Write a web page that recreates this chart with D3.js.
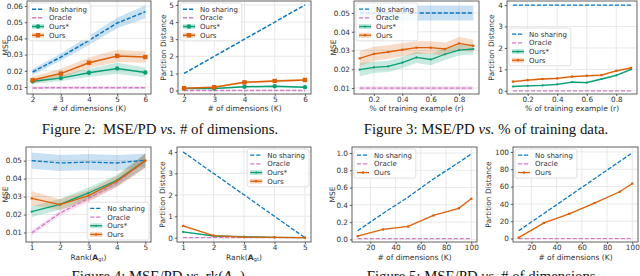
<!DOCTYPE html>
<html><head><meta charset="utf-8">
<script src="https://cdn.jsdelivr.net/npm/d3@7"></script>
<style>body{margin:0;background:#fff;overflow:hidden} svg{display:block}</style>
</head><body><svg id="c" width="640" height="276"></svg>
<script>
// ---------- data ----------
const dimsSmall = [2, 3, 4, 5, 6];
const ratios = [0.1, 0.2, 0.3, 0.4, 0.5, 0.6, 0.7, 0.8, 0.9];
const ranks = [1, 2, 3, 4, 5];
const dimsLarge = [10, 30, 50, 70, 90, 100];

// Figure 2 (MSE / PD vs # dims)
const f2MseNoShare = [0.0193, 0.0285, 0.0388, 0.0495, 0.0565];
const f2MseNoShareErr = [0.0018, 0.0022, 0.0028, 0.0032, 0.0040];
const f2MseOracle = [0.0094, 0.0096, 0.0095, 0.0096, 0.0096];
const f2MseOracleErr = [0.0008, 0.0008, 0.0008, 0.0008, 0.0008];
const f2MseOursStar = [0.0135, 0.0155, 0.0188, 0.0215, 0.0190];
const f2MseOursStarErr = [0.0015, 0.0020, 0.0025, 0.0035, 0.0030];
const f2MseOurs = [0.0143, 0.0183, 0.0250, 0.0292, 0.0285];
const f2MseOursErr = [0.0020, 0.0030, 0.0032, 0.0038, 0.0035];
const f2PdNoShare = [1, 2, 3, 4, 5];
const f2PdOracle = [0, 0, 0, 0, 0];
const f2PdOursStar = [0.12, 0.12, 0.22, 0.25, 0.20];
const f2PdOursStarErr = [0.03, 0.03, 0.05, 0.05, 0.05];
const f2PdOurs = [0.14, 0.20, 0.48, 0.56, 0.62];
const f2PdOursErr = [0.03, 0.05, 0.07, 0.07, 0.07];

// Figure 3 (MSE / PD vs % training)
const f3MseNoShare = [0.05, 0.05, 0.05, 0.05, 0.05, 0.05, 0.05, 0.05, 0.05];
const f3MseNoShareErr = [0.004, 0.004, 0.004, 0.004, 0.004, 0.004, 0.004, 0.004, 0.004];
const f3MseOracle = [0.0099, 0.0099, 0.0099, 0.0099, 0.0099, 0.0099, 0.0099, 0.0099, 0.0099];
const f3MseOracleErr = [0.001, 0.001, 0.001, 0.001, 0.001, 0.001, 0.001, 0.001, 0.001];
const f3MseOursStar = [0.0198, 0.0210, 0.0215, 0.0235, 0.0263, 0.0252, 0.0280, 0.0302, 0.0308];
const f3MseOursStarErr = [0.0035, 0.0030, 0.0030, 0.0030, 0.0030, 0.0030, 0.0030, 0.0028, 0.0028];
const f3MseOurs = [0.0258, 0.0282, 0.0292, 0.0304, 0.0315, 0.0315, 0.0308, 0.0338, 0.0325];
const f3MseOursErr = [0.0040, 0.0038, 0.0036, 0.0036, 0.0034, 0.0034, 0.0034, 0.0034, 0.0032];
const f3PdNoShare = [4, 4, 4, 4, 4, 4, 4, 4, 4];
const f3PdOracle = [0, 0, 0, 0, 0, 0, 0, 0, 0];
const f3PdOursStar = [0.20, 0.23, 0.25, 0.30, 0.40, 0.38, 0.55, 0.72, 1.00];
const f3PdOursStarErr = [0.04, 0.04, 0.04, 0.04, 0.05, 0.05, 0.05, 0.05, 0.05];
const f3PdOurs = [0.43, 0.50, 0.55, 0.58, 0.66, 0.70, 0.73, 0.93, 1.07];
const f3PdOursErr = [0.05, 0.05, 0.05, 0.05, 0.05, 0.05, 0.05, 0.05, 0.05];

// Figure 4 (MSE / PD vs rank)
const f4MseNoShare = [0.0500, 0.0487, 0.0492, 0.0487, 0.0503];
const f4MseNoShareErr = [0.0045, 0.0045, 0.0045, 0.0045, 0.0035];
const f4MseOracle = [0.0098, 0.0208, 0.0290, 0.0375, 0.0500];
const f4MseOracleErr = [0.0015, 0.0015, 0.0020, 0.0022, 0.0040];
const f4MseOursStar = [0.0216, 0.0257, 0.0320, 0.0390, 0.0500];
const f4MseOursStarErr = [0.0030, 0.0030, 0.0030, 0.0030, 0.0040];
const f4MseOurs = [0.0290, 0.0255, 0.0305, 0.0385, 0.0500];
const f4MseOursErr = [0.0040, 0.0030, 0.0030, 0.0030, 0.0040];
const f4PdNoShare = [4, 3, 2, 1, 0];
const f4PdOracle = [0, 0, 0, 0, 0];
const f4PdOursStar = [0.27, 0.08, 0.05, 0.02, 0.00];
const f4PdOursStarErr = [0.03, 0.02, 0.02, 0.01, 0.00];
const f4PdOurs = [0.55, 0.10, 0.03, 0.02, 0.00];
const f4PdOursErr = [0.04, 0.02, 0.02, 0.01, 0.00];

// Figure 5 (MSE / PD vs # dims, large)
const f5MseNoShare = [0.10, 0.30, 0.49, 0.70, 0.89, 0.99];
const f5MseOracle = [0.01, 0.01, 0.01, 0.01, 0.01, 0.01];
const f5MseOurs = [0.038, 0.115, 0.150, 0.277, 0.360, 0.470];
const f5PdNoShare = [9, 29, 49, 69, 89, 99];
const f5PdOracle = [0, 0, 0, 0, 0, 0];
const f5PdOurs = [1.0, 18.0, 28.5, 41.0, 54.0, 63.5];

// tick values
const tickDimsSmall = [2, 3, 4, 5, 6];
const tickRatios = [0.2, 0.4, 0.6, 0.8];
const tickRanks = [1, 2, 3, 4, 5];
const tickDimsLarge = [20, 40, 60, 80, 100];
const tickMseSmall = [0.01, 0.02, 0.03, 0.04, 0.05, 0.06];
const tickMseMid = [0.01, 0.02, 0.03, 0.04, 0.05];
const tickPd5 = [0, 1, 2, 3, 4, 5];
const tickPd4 = [0, 1, 2, 3, 4];
const tickMseUnit = [0.0, 0.2, 0.4, 0.6, 0.8, 1.0];
const tickPd100 = [0, 20, 40, 60, 80, 100];

const labels = ['No sharing', 'Oracle', 'Ours*', 'Ours'];

// ---------- style ----------
const COL = {no: '#0a78c2', or: '#d27cc4', os: '#0a9e74', ou: '#dc6008'};
const FONT = '"DejaVu Sans", sans-serif';
const svg = d3.select('#c');

function ser(label, xs, ys, err, color, dashed, marker) {
  return {label, xs, ys, err, color, dashed, marker};
}

function panel(cfg) {
  const g = svg.append('g');
  const x = d3.scaleLinear().domain(cfg.xd).range([cfg.x0, cfg.x1]);
  const y = d3.scaleLinear().domain(cfg.yd).range([cfg.y1, cfg.y0]);
  const cid = 'clip' + cfg.id;
  svg.append('clipPath').attr('id', cid).append('rect')
    .attr('x', cfg.x0).attr('y', cfg.y0).attr('width', cfg.x1 - cfg.x0).attr('height', cfg.y1 - cfg.y0);

  // grid
  g.append('g').selectAll('line').data(cfg.xt).join('line')
    .attr('x1', d => x(d)).attr('x2', d => x(d)).attr('y1', cfg.y0).attr('y2', cfg.y1)
    .attr('stroke', '#e3e3e3').attr('stroke-width', 0.8);
  g.append('g').selectAll('line').data(cfg.yt).join('line')
    .attr('y1', d => y(d)).attr('y2', d => y(d)).attr('x1', cfg.x0).attr('x2', cfg.x1)
    .attr('stroke', '#e3e3e3').attr('stroke-width', 0.8);

  const plot = g.append('g').attr('clip-path', `url(#${cid})`);
  // bands
  cfg.series.forEach(s => {
    if (!s.err) return;
    const pts = s.xs.map((xv, i) => [xv, s.ys[i], s.err[i]]);
    plot.append('path').datum(pts)
      .attr('d', d3.area().x(d => x(d[0])).y0(d => y(d[1] - d[2])).y1(d => y(d[1] + d[2])))
      .attr('fill', s.color).attr('fill-opacity', 0.22).attr('stroke', 'none');
  });
  // lines + markers
  cfg.series.forEach(s => {
    const pts = s.xs.map((xv, i) => [xv, s.ys[i]]);
    plot.append('path').datum(pts)
      .attr('d', d3.line().x(d => x(d[0])).y(d => y(d[1])))
      .attr('fill', 'none').attr('stroke', s.color).attr('stroke-width', cfg.lw)
      .attr('stroke-dasharray', s.dashed ? cfg.dash : null);
    if (s.marker === 'circle') {
      plot.append('g').selectAll('circle').data(pts).join('circle')
        .attr('cx', d => x(d[0])).attr('cy', d => y(d[1])).attr('r', cfg.ms / 2).attr('fill', s.color);
    } else if (s.marker === 'square') {
      plot.append('g').selectAll('rect').data(pts).join('rect')
        .attr('x', d => x(d[0]) - cfg.ms / 2).attr('y', d => y(d[1]) - cfg.ms / 2)
        .attr('width', cfg.ms).attr('height', cfg.ms).attr('fill', s.color);
    }
  });

  // frame
  g.append('rect').attr('x', cfg.x0).attr('y', cfg.y0).attr('width', cfg.x1 - cfg.x0).attr('height', cfg.y1 - cfg.y0)
    .attr('fill', 'none').attr('stroke', '#3a3a3a').attr('stroke-width', 0.8);

  // axes
  const styleAxis = a => {
    a.select('.domain').remove();
    a.attr('font-family', FONT).attr('font-size', cfg.tfs);
    a.selectAll('line').attr('stroke', '#3a3a3a').attr('stroke-width', 0.8);
    a.selectAll('text').attr('fill', '#333');
  };
  g.append('g').attr('transform', `translate(0,${cfg.y1})`)
    .call(d3.axisBottom(x).tickValues(cfg.xt).tickFormat(d3.format(cfg.xf)).tickSize(2).tickPadding(1.3))
    .call(styleAxis);
  g.append('g').attr('transform', `translate(${cfg.x0},0)`)
    .call(d3.axisLeft(y).tickValues(cfg.yt).tickFormat(d3.format(cfg.yf)).tickSize(2.2).tickPadding(1.8))
    .call(styleAxis);

  // axis labels
  const xl = g.append('text').attr('x', (cfg.x0 + cfg.x1) / 2).attr('y', cfg.xly)
    .attr('text-anchor', 'middle').attr('font-family', FONT).attr('font-size', cfg.lfs).attr('fill', '#333');
  if (cfg.rankLabel) {
    xl.append('tspan').text('Rank(');
    xl.append('tspan').attr('font-weight', 'bold').text('A');
    xl.append('tspan').attr('font-size', cfg.lfs * 0.7).attr('dy', 1.5).text('gt');
    xl.append('tspan').attr('dy', -1.5).text(')');
  } else xl.text(cfg.xl);
  g.append('text').attr('transform', `translate(${cfg.ylx},${(cfg.y0 + cfg.y1) / 2}) rotate(-90)`)
    .attr('text-anchor', 'middle').attr('dy', '0.35em').attr('font-family', FONT).attr('font-size', cfg.lfs)
    .attr('fill', '#333').text(cfg.yl);

  // legend
  const L = cfg.leg;
  const lg = g.append('g');
  const box = lg.append('rect');
  const hl = 12, pad = 3, gap = 5, rowH = L.rowH;
  let maxW = 0;
  const texts = cfg.series.map((s, i) => {
    const t = lg.append('text').attr('font-family', FONT).attr('font-size', L.fs).attr('fill', '#333')
      .attr('dy', '0.35em').text(s.label);
    maxW = Math.max(maxW, t.node().getComputedTextLength());
    return t;
  });
  const w = pad + hl + gap + maxW + pad + 1;
  const h = rowH * cfg.series.length + 3;
  let lx, ly;
  if (L.pos === 'ul') { lx = cfg.x0 + 2; ly = cfg.y0 + 2; }
  else if (L.pos === 'ur') { lx = cfg.x1 - 2 - w; ly = cfg.y0 + 2; }
  else if (L.pos === 'lr') { lx = cfg.x1 - 2 - w; ly = cfg.y1 - 2 - h; }
  else { lx = cfg.x0 + 2; ly = L.top; }
  box.attr('x', lx).attr('y', ly).attr('width', w).attr('height', h).attr('rx', 2)
    .attr('fill', '#fff').attr('fill-opacity', 0.82).attr('stroke', '#d4d4d4').attr('stroke-width', 0.7);
  cfg.series.forEach((s, i) => {
    const cy = ly + 1.5 + rowH * (i + 0.5) + 0.3;
    const hx = lx + pad;
    if (s.err && s.marker && cfg.legPatch) {
      lg.append('rect').attr('x', hx).attr('y', cy - 2.5).attr('width', hl).attr('height', 5)
        .attr('fill', s.color).attr('fill-opacity', 0.25);
    }
    lg.append('line').attr('x1', hx).attr('x2', hx + hl).attr('y1', cy).attr('y2', cy)
      .attr('stroke', s.color).attr('stroke-width', cfg.lw).attr('stroke-dasharray', s.dashed ? cfg.dash : null);
    if (s.marker === 'circle') lg.append('circle').attr('cx', hx + hl / 2).attr('cy', cy).attr('r', cfg.ms / 2).attr('fill', s.color);
    if (s.marker === 'square') lg.append('rect').attr('x', hx + hl / 2 - cfg.ms / 2).attr('y', cy - cfg.ms / 2)
      .attr('width', cfg.ms).attr('height', cfg.ms).attr('fill', s.color);
    texts[i].attr('x', hx + hl + gap).attr('y', cy);
  });
}

const common = {tfs: 7.3, lfs: 7.5, lw: 1.5, dash: '4.2,1.8', ms: 4.4, legPatch: true};

panel(Object.assign({}, common, {
  id: 1, x0: 27, x1: 151, y0: 1, y1: 94, xd: [1.8, 6.2], yd: [0.0057, 0.0631],
  xt: tickDimsSmall, yt: tickMseSmall, xf: 'd', yf: '.2f', xl: '# of dimensions (K)', yl: 'MSE', xly: 111, ylx: 5.5,
  leg: {pos: 'ul', fs: 7, rowH: 8.7},
  series: [
    ser(labels[0], dimsSmall, f2MseNoShare, f2MseNoShareErr, COL.no, true, null),
    ser(labels[1], dimsSmall, f2MseOracle, f2MseOracleErr, COL.or, true, null),
    ser(labels[2], dimsSmall, f2MseOursStar, f2MseOursStarErr, COL.os, false, 'circle'),
    ser(labels[3], dimsSmall, f2MseOurs, f2MseOursErr, COL.ou, false, 'square')]
}));
panel(Object.assign({}, common, {
  id: 2, x0: 178, x1: 311, y0: 1, y1: 94, xd: [1.8, 6.2], yd: [-0.2, 5.23],
  xt: tickDimsSmall, yt: tickPd5, xf: 'd', yf: 'd', xl: '# of dimensions (K)', yl: 'Partition Distance', xly: 111, ylx: 163,
  leg: {pos: 'ul', fs: 7, rowH: 8.7},
  series: [
    ser(labels[0], dimsSmall, f2PdNoShare, null, COL.no, true, null),
    ser(labels[1], dimsSmall, f2PdOracle, null, COL.or, true, null),
    ser(labels[2], dimsSmall, f2PdOursStar, f2PdOursStarErr, COL.os, false, 'circle'),
    ser(labels[3], dimsSmall, f2PdOurs, f2PdOursErr, COL.ou, false, 'square')]
}));
const thin = {lw: 1.3, ms: 2.2};
panel(Object.assign({}, common, thin, {
  id: 3, x0: 354, x1: 479, y0: 1, y1: 94, xd: [0.06, 0.94], yd: [0.0068, 0.0564],
  xt: tickRatios, yt: tickMseMid, xf: '.1f', yf: '.2f', xl: '% of training example (r)', yl: 'MSE', xly: 111, ylx: 333,
  leg: {pos: 'ul', fs: 7, rowH: 8.7},
  series: [
    ser(labels[0], ratios, f3MseNoShare, f3MseNoShareErr, COL.no, true, null),
    ser(labels[1], ratios, f3MseOracle, f3MseOracleErr, COL.or, true, null),
    ser(labels[2], ratios, f3MseOursStar, f3MseOursStarErr, COL.os, false, 'circle'),
    ser(labels[3], ratios, f3MseOurs, f3MseOursErr, COL.ou, false, 'square')]
}));
panel(Object.assign({}, common, thin, {
  id: 4, x0: 507, x1: 637, y0: 1, y1: 94, xd: [0.06, 0.94], yd: [-0.15, 4.19],
  xt: tickRatios, yt: tickPd4, xf: '.1f', yf: 'd', xl: '% of training example (r)', yl: 'Partition Distance', xly: 111, ylx: 491,
  leg: {pos: 'cl', top: 28, fs: 7, rowH: 8.7},
  series: [
    ser(labels[0], ratios, f3PdNoShare, null, COL.no, true, null),
    ser(labels[1], ratios, f3PdOracle, null, COL.or, true, null),
    ser(labels[2], ratios, f3PdOursStar, f3PdOursStarErr, COL.os, false, 'circle'),
    ser(labels[3], ratios, f3PdOurs, f3PdOursErr, COL.ou, false, 'square')]
}));
panel(Object.assign({}, common, thin, {
  id: 5, x0: 26, x1: 151, y0: 147, y1: 242, xd: [0.8, 5.2], yd: [0.0047, 0.0576],
  xt: tickRanks, yt: tickMseMid, xf: 'd', yf: '.2f', rankLabel: true, yl: 'MSE', xly: 259.5, ylx: 5.5,
  leg: {pos: 'lr', fs: 7, rowH: 8.7},
  series: [
    ser(labels[0], ranks, f4MseNoShare, f4MseNoShareErr, COL.no, true, null),
    ser(labels[1], ranks, f4MseOracle, f4MseOracleErr, COL.or, true, null),
    ser(labels[2], ranks, f4MseOursStar, f4MseOursStarErr, COL.os, false, 'circle'),
    ser(labels[3], ranks, f4MseOurs, f4MseOursErr, COL.ou, false, 'square')]
}));
panel(Object.assign({}, common, thin, {
  id: 6, x0: 177, x1: 311, y0: 147, y1: 242, xd: [0.8, 5.2], yd: [-0.2, 4.23],
  xt: tickRanks, yt: tickPd4, xf: 'd', yf: 'd', rankLabel: true, yl: 'Partition Distance', xly: 259.5, ylx: 162,
  leg: {pos: 'ur', fs: 7, rowH: 8.7},
  series: [
    ser(labels[0], ranks, f4PdNoShare, null, COL.no, true, null),
    ser(labels[1], ranks, f4PdOracle, null, COL.or, true, null),
    ser(labels[2], ranks, f4PdOursStar, f4PdOursStarErr, COL.os, false, 'circle'),
    ser(labels[3], ranks, f4PdOurs, f4PdOursErr, COL.ou, false, 'square')]
}));
panel(Object.assign({}, common, thin, {
  id: 7, x0: 352, x1: 477, y0: 147, y1: 242, xd: [5.5, 104.5], yd: [-0.03, 1.07],
  xt: tickDimsLarge, yt: tickMseUnit, xf: 'd', yf: '.1f', xl: '# of dimensions (K)', yl: 'MSE', xly: 259.5, ylx: 332,
  leg: {pos: 'ul', fs: 7, rowH: 8.7},
  series: [
    ser(labels[0], dimsLarge, f5MseNoShare, null, COL.no, true, null),
    ser(labels[1], dimsLarge, f5MseOracle, null, COL.or, true, null),
    ser(labels[3], dimsLarge, f5MseOurs, null, COL.ou, false, 'square')]
}));
panel(Object.assign({}, common, thin, {
  id: 8, x0: 513, x1: 638, y0: 147, y1: 242, xd: [5.5, 104.5], yd: [-4, 105.7],
  xt: tickDimsLarge, yt: tickPd100, xf: 'd', yf: 'd', xl: '# of dimensions (K)', yl: 'Partition Distance', xly: 259.5, ylx: 488,
  leg: {pos: 'ul', fs: 7, rowH: 8.7},
  series: [
    ser(labels[0], dimsLarge, f5PdNoShare, null, COL.no, true, null),
    ser(labels[1], dimsLarge, f5PdOracle, null, COL.or, true, null),
    ser(labels[3], dimsLarge, f5PdOurs, null, COL.ou, false, 'square')]
}));

// ---------- captions ----------
const SERIF = '"Liberation Serif", "DejaVu Serif", serif';
function caption(cx, by, parts) {
  const t = svg.append('text').attr('x', cx).attr('y', by).attr('text-anchor', 'middle')
    .attr('font-family', SERIF).attr('font-size', 14.8).attr('fill', '#111');
  parts.forEach(p => {
    const s = t.append('tspan').text(p.t);
    if (p.i) s.attr('font-style', 'italic');
    if (p.sub) s.attr('font-size', 10).attr('dy', 2.5);
    if (p.up) s.attr('dy', -2.5);
  });
}
caption(160, 134, [{t: 'Figure 2:\u00a0\u00a0MSE/PD '}, {t: 'vs.', i: 1}, {t: ' # of dimensions.'}]);
caption(486, 134, [{t: 'Figure 3: MSE/PD '}, {t: 'vs.', i: 1}, {t: ' % of training data.'}]);
caption(160, 281, [{t: 'Figure 4: MSE/PD '}, {t: 'vs.', i: 1}, {t: ' rk('}, {t: 'A', i: 1}, {t: 'gt', sub: 1}, {t: ').', up: 1}]);
caption(483, 281, [{t: 'Figure 5: MSE/PD '}, {t: 'vs.', i: 1}, {t: ' # of dimensions.'}]);
</script></body></html>
